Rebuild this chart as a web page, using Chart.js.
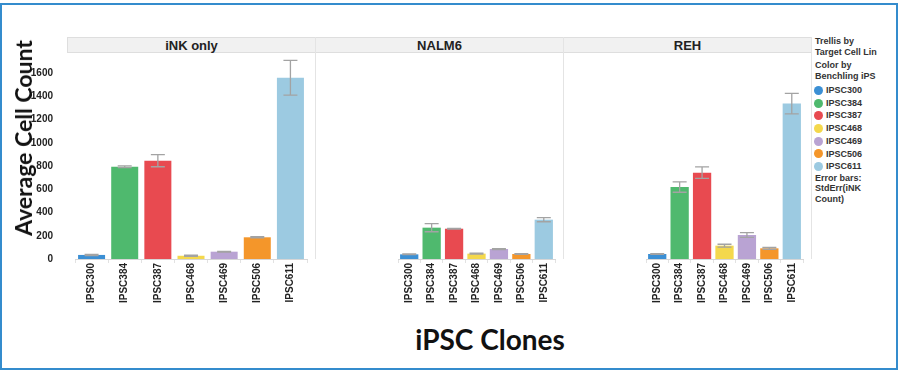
<!DOCTYPE html>
<html>
<head>
<meta charset="utf-8">
<script src="https://cdn.jsdelivr.net/npm/chart.js@4.4.1/dist/chart.umd.min.js"></script>
<style>
  html, body { margin: 0; padding: 0; background: #fff; }
  body { width: 901px; height: 374px; position: relative; overflow: hidden; font-family: Arial, "Liberation Sans", sans-serif; }
  .abs { position: absolute; }
  .header { top: 37px; height: 16px; background: #f1f1f1; border-top: 1px solid #dedede; border-bottom: 1px solid #dedede; box-sizing: border-box;
            font-weight: bold; font-size: 13px; color: #222; text-align: center; line-height: 15px; }
  .sep { top: 37px; height: 222px; width: 1px; background: #e4e4e4; }
  .legend { left: 815px; top: 36px; font-size: 9px; font-weight: bold; color: #333; line-height: 10.5px; }
  .legend .item { height: 12.7px; display: flex; align-items: center; }
  .legend .dot { width: 9px; height: 9px; border-radius: 50%; margin-right: 3px; margin-left: -1px; }
  .ytitle { left: 23px; top: 138px; transform: translate(-50%, -50%) rotate(-90deg); white-space: nowrap;
            font-family: Lato, "Open Sans", sans-serif; font-weight: 700; font-size: 23px; color: #111; }
  .xtitle { left: 490px; top: 339px; transform: translate(-50%, -50%); white-space: nowrap;
            font-family: Lato, "Open Sans", sans-serif; font-weight: 700; font-size: 28px; color: #111; }
</style>
</head>
<body>
<script>
// ---- data ----
const clones = ['IPSC300', 'IPSC384', 'IPSC387', 'IPSC468', 'IPSC469', 'IPSC506', 'IPSC611'];
const panelNames = ['iNK only', 'NALM6', 'REH'];
const inkOnly = [35, 795, 847, 28, 63, 187, 1562];
const inkOnlyErr = [5, 8, 52, 5, 3, 5, 150];
const nalm6 = [40, 270, 261, 46, 86, 43, 339];
const nalm6Err = [3, 35, 3, 4, 4, 3, 18];
const reh = [43, 620, 744, 115, 207, 92, 1339];
const rehErr = [3, 45, 50, 12, 20, 8, 88];
const yTicks = [0, 200, 400, 600, 800, 1000, 1200, 1400, 1600];
const yMax = 1775;
const cloneColors = ['#3b8fd4', '#4fb96e', '#e84a50', '#f4d84c', '#b9a3d3', '#f4962a', '#9ccae1'];
</script>

<div class="abs" style="left:0;top:3px;width:898px;height:367px;border:2.5px solid #348ccd;box-sizing:border-box;"></div>
<div class="abs header" id="h0" style="left:67px;width:248px;border-left:1px solid #dedede;"></div>
<div class="abs header" id="h1" style="left:315px;width:248px;border-left:1px solid #dedede;"></div>
<div class="abs header" id="h2" style="left:563px;width:249px;border-left:1px solid #dedede;border-right:1px solid #dedede;"></div>
<div class="abs sep" style="left:315px;"></div>
<div class="abs sep" style="left:563px;"></div>
<div class="abs sep" style="left:811px;"></div>

<div class="abs" style="left:0;top:45px;width:315px;height:274px;"><canvas id="c0"></canvas></div>
<div class="abs" style="left:315px;top:45px;width:248px;height:274px;"><canvas id="c1"></canvas></div>
<div class="abs" style="left:563px;top:45px;width:248px;height:274px;"><canvas id="c2"></canvas></div>

<div class="abs ytitle">Average Cell Count</div>
<div class="abs xtitle">iPSC Clones</div>

<div class="abs legend" id="legend">
  <div style="margin-bottom:3px;">Trellis by<br>Target Cell Lin</div>
  <div style="margin-bottom:3px;">Color by<br>Benchling iPS</div>
  <div id="legend-items"></div>
  <div>Error bars:<br>StdErr(iNK<br>Count)</div>
</div>

<script>
panelNames.forEach((n, i) => { document.getElementById('h' + i).textContent = n; });

const legendItems = document.getElementById('legend-items');
clones.forEach((c, i) => {
    legendItems.innerHTML += `<div class="item"><div class="dot" style="background:${cloneColors[i]}"></div>${c}</div>`;
});

// error bars drawn from the bar elements and the y scale
const errorBars = {
    id: 'errorBars',
    afterDatasetsDraw(chart) {
        const ctx = chart.ctx;
        const yScale = chart.scales.y;
        const ds = chart.data.datasets[0];
        const meta = chart.getDatasetMeta(0);
        ctx.save();
        ctx.strokeStyle = '#a3a3a3';
        ctx.lineWidth = 1.3;
        meta.data.forEach((bar, i) => {
            const v = ds.data[i], e = ds.errors[i];
            const top = yScale.getPixelForValue(v + e);
            const bot = yScale.getPixelForValue(v - e);
            ctx.beginPath();
            ctx.moveTo(bar.x, top); ctx.lineTo(bar.x, bot);
            ctx.moveTo(bar.x - 7, top); ctx.lineTo(bar.x + 7, top);
            ctx.moveTo(bar.x - 7, bot); ctx.lineTo(bar.x + 7, bot);
            ctx.stroke();
        });
        ctx.restore();
    }
};

const tickFont = { family: 'Arial, "Liberation Sans", sans-serif', size: 10, weight: 'bold' };

function makePanel(id, values, errors, showY) {
    new Chart(document.getElementById(id), {
        type: 'bar',
        data: {
            labels: clones,
            datasets: [{
                data: values,
                errors: errors,
                backgroundColor: cloneColors,
                borderWidth: 0,
                categoryPercentage: 1,
                barPercentage: 0.815,
            }]
        },
        options: {
            responsive: true,
            maintainAspectRatio: false,
            animation: false,
            layout: { padding: { top: 8, right: 8, left: showY ? 0 : 8, bottom: 0 } },
            plugins: { legend: { display: false }, tooltip: { enabled: false } },
            scales: {
                x: {
                    grid: { display: true, drawOnChartArea: false, tickLength: 4, color: '#e2e2e2' },
                    border: { display: true, color: '#d6d6d6' },
                    ticks: { minRotation: 90, maxRotation: 90, padding: 0, color: '#222', font: tickFont, autoSkip: false },
                    afterFit: s => { s.height = 60; }
                },
                y: {
                    display: showY,
                    min: 0,
                    max: yMax,
                    grid: { display: false },
                    border: { display: false },
                    afterBuildTicks: s => { s.ticks = yTicks.map(v => ({ value: v })); },
                    ticks: { padding: 14, color: '#222', font: tickFont, callback: v => String(v) },
                    afterFit: s => { s.width = 75; s.paddingTop = 0; s.paddingBottom = 0; }
                }
            }
        },
        plugins: [errorBars]
    });
}

makePanel('c0', inkOnly, inkOnlyErr, true);
makePanel('c1', nalm6, nalm6Err, false);
makePanel('c2', reh, rehErr, false);
</script>
</body>
</html>
